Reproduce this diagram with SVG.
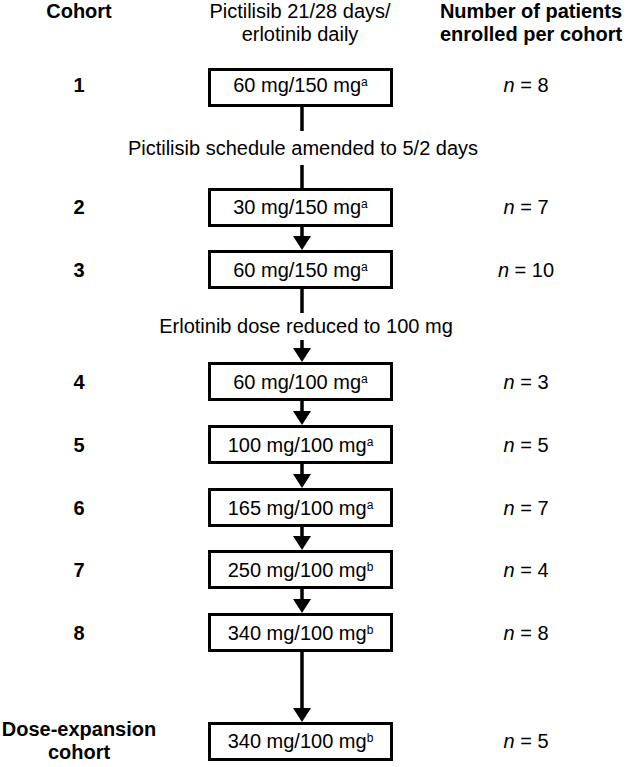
<svg xmlns="http://www.w3.org/2000/svg" width="626" height="767" viewBox="0 0 626 767">
<style>
text{font-family:"Liberation Sans",Arial,sans-serif;font-size:20px;fill:#000}
.b{font-weight:bold}
.m{text-anchor:middle}
.box{fill:#fff;stroke:#000;stroke-width:3}
.ln{stroke:#000;stroke-width:3.5;fill:none}
.sup{font-size:12px}
.i{font-style:italic}
</style>
<defs>
<marker id="ah" viewBox="0 0 14 18" refX="0" refY="9" markerWidth="14" markerHeight="18" orient="auto" markerUnits="userSpaceOnUse">
<path d="M0,0 L14,9 L0,18 Z" fill="#000"/>
</marker>
</defs>
<rect width="626" height="767" fill="#fff"/>
<g id="headers">
<text class="b m" x="79" y="18">Cohort</text>
<text class="m" x="300" y="18">Pictilisib 21/28 days/</text>
<text class="m" x="300" y="41">erlotinib daily</text>
<text class="b m" x="531" y="18">Number of patients</text>
<text class="b m" x="531" y="41">enrolled per cohort</text>
</g>
<g id="connectors">
<line class="ln" x1="302" y1="107" x2="302" y2="131"/>
<line class="ln" x1="302" y1="165" x2="302" y2="188"/>
<line class="ln" x1="302" y1="227" x2="302" y2="236" marker-end="url(#ah)"/>
<line class="ln" x1="302" y1="289" x2="302" y2="313"/>
<line class="ln" x1="302" y1="340" x2="302" y2="348" marker-end="url(#ah)"/>
<line class="ln" x1="302" y1="401" x2="302" y2="411" marker-end="url(#ah)"/>
<line class="ln" x1="302" y1="464" x2="302" y2="474" marker-end="url(#ah)"/>
<line class="ln" x1="302" y1="527" x2="302" y2="536" marker-end="url(#ah)"/>
<line class="ln" x1="302" y1="589" x2="302" y2="599" marker-end="url(#ah)"/>
<line class="ln" x1="302" y1="652" x2="302" y2="708" marker-end="url(#ah)"/>
</g>
<g id="notes">
<text class="m" x="303" y="155">Pictilisib schedule amended to 5/2 days</text>
<text class="m" x="306" y="333">Erlotinib dose reduced to 100 mg</text>
</g>
<g id="cohort1">
<text class="b m" x="79" y="92">1</text>
<rect class="box" x="209.5" y="69.5" width="182" height="36"/>
<text class="m" x="300.5" y="92">60 mg/150 mg<tspan class="sup" dy="-6">a</tspan></text>
<text class="m" x="526" y="92"><tspan class="i">n</tspan> = 8</text>
</g>
<g id="cohort2">
<text class="b m" x="79" y="214">2</text>
<rect class="box" x="209.5" y="189.5" width="182" height="36"/>
<text class="m" x="300.5" y="214">30 mg/150 mg<tspan class="sup" dy="-6">a</tspan></text>
<text class="m" x="526" y="214"><tspan class="i">n</tspan> = 7</text>
</g>
<g id="cohort3">
<text class="b m" x="79" y="277">3</text>
<rect class="box" x="209.5" y="251.5" width="182" height="36"/>
<text class="m" x="300.5" y="277">60 mg/150 mg<tspan class="sup" dy="-6">a</tspan></text>
<text class="m" x="526" y="277"><tspan class="i">n</tspan> = 10</text>
</g>
<g id="cohort4">
<text class="b m" x="79" y="389">4</text>
<rect class="box" x="209.5" y="363.5" width="182" height="36"/>
<text class="m" x="300.5" y="389">60 mg/100 mg<tspan class="sup" dy="-6">a</tspan></text>
<text class="m" x="526" y="389"><tspan class="i">n</tspan> = 3</text>
</g>
<g id="cohort5">
<text class="b m" x="79" y="452">5</text>
<rect class="box" x="209.5" y="426.5" width="182" height="36"/>
<text class="m" x="300.5" y="452">100 mg/100 mg<tspan class="sup" dy="-6">a</tspan></text>
<text class="m" x="526" y="452"><tspan class="i">n</tspan> = 5</text>
</g>
<g id="cohort6">
<text class="b m" x="79" y="515">6</text>
<rect class="box" x="209.5" y="489.5" width="182" height="36"/>
<text class="m" x="300.5" y="515">165 mg/100 mg<tspan class="sup" dy="-6">a</tspan></text>
<text class="m" x="526" y="515"><tspan class="i">n</tspan> = 7</text>
</g>
<g id="cohort7">
<text class="b m" x="79" y="577">7</text>
<rect class="box" x="209.5" y="551.5" width="182" height="36"/>
<text class="m" x="300.5" y="577">250 mg/100 mg<tspan class="sup" dy="-6">b</tspan></text>
<text class="m" x="526" y="577"><tspan class="i">n</tspan> = 4</text>
</g>
<g id="cohort8">
<text class="b m" x="79" y="640">8</text>
<rect class="box" x="209.5" y="614.5" width="182" height="36"/>
<text class="m" x="300.5" y="640">340 mg/100 mg<tspan class="sup" dy="-6">b</tspan></text>
<text class="m" x="526" y="640"><tspan class="i">n</tspan> = 8</text>
</g>
<g id="expansion">
<text class="b m" x="79" y="736">Dose-expansion</text>
<text class="b m" x="79" y="759">cohort</text>
<rect class="box" x="209.5" y="723.5" width="182" height="36"/>
<text class="m" x="300.5" y="748">340 mg/100 mg<tspan class="sup" dy="-6">b</tspan></text>
<text class="m" x="526" y="748"><tspan class="i">n</tspan> = 5</text>
</g>
</svg>
